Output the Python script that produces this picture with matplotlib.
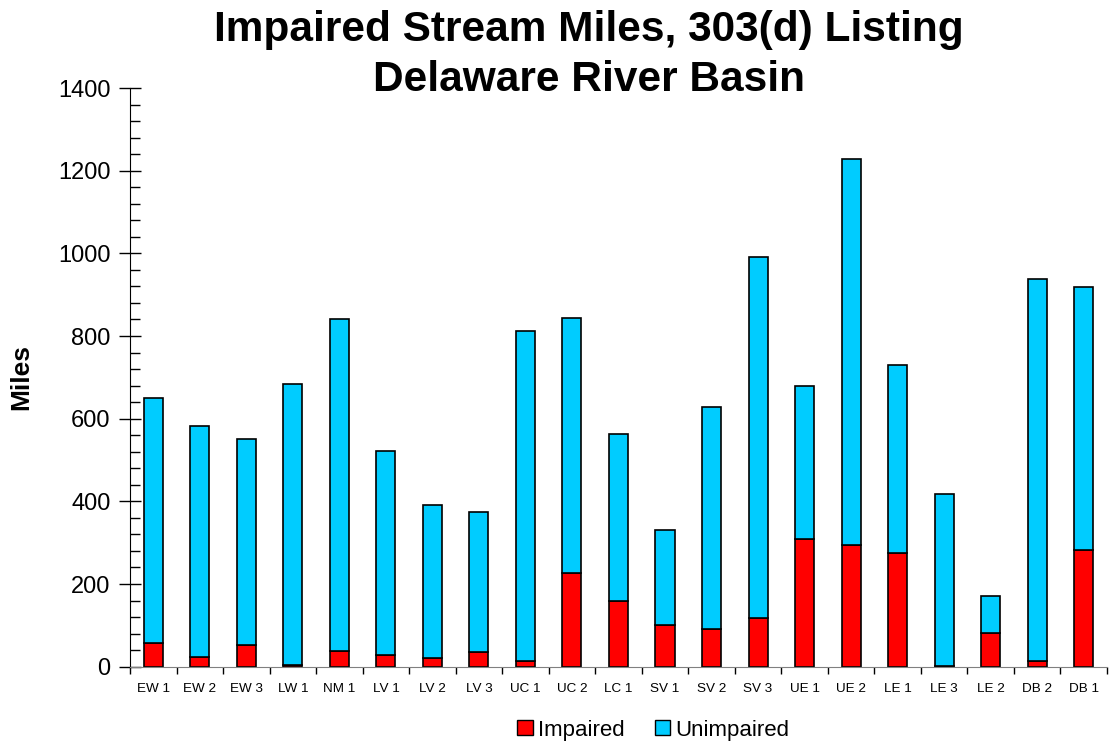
import numpy as np
import matplotlib.pyplot as plt
from matplotlib.ticker import MultipleLocator, FixedLocator
from matplotlib.patches import Patch

plt.rcParams['font.family'] = ['Liberation Sans', 'DejaVu Sans']

# stream segments and miles
segments = ["EW 1", "EW 2", "EW 3", "LW 1", "NM 1", "LV 1", "LV 2", "LV 3", "UC 1", "UC 2",
            "LC 1", "SV 1", "SV 2", "SV 3", "UE 1", "UE 2", "LE 1", "LE 3", "LE 2", "DB 2", "DB 1"]
total_miles = [650, 583, 552, 685, 841, 523, 390, 375, 812, 844,
               563, 331, 628, 991, 679, 1228, 730, 418, 172, 938, 919]
impaired = [57, 24, 52, 5, 38, 28, 21, 35, 14, 226,
            160, 101, 90, 118, 310, 295, 276, 1.5, 82, 14, 282]
unimpaired = [t - i for t, i in zip(total_miles, impaired)]

fig = plt.figure(figsize=(11.17, 7.42), dpi=100)
ax = fig.add_axes([0.1164, 0.1015, 0.8746, 0.7799])

x = np.arange(len(segments))
w = 0.41
ax.bar(x, impaired, w, color='#FF0000', edgecolor='black', linewidth=1.2, label='Impaired')
ax.bar(x, unimpaired, w, bottom=impaired, color='#00CCFF', edgecolor='black', linewidth=1.2,
       label='Unimpaired')

ax.set_xlim(-0.5, len(segments) - 0.5)
ax.set_ylim(0, 1400)
ax.yaxis.set_major_locator(MultipleLocator(200))
ax.yaxis.set_minor_locator(MultipleLocator(40))
ax.tick_params(axis='y', which='major', direction='inout', length=16, width=1, labelsize=17, pad=6)
ax.tick_params(axis='y', which='minor', direction='in', length=7, width=1)

ax.set_xticks(x)
ax.set_xticklabels(segments)
ax.xaxis.set_minor_locator(FixedLocator(np.arange(-0.5, len(segments), 1.0)))
ax.tick_params(axis='x', which='major', length=0, labelsize=9.7, pad=12)
ax.tick_params(axis='x', which='minor', direction='out', length=5, width=1)

for s in ['top', 'right']:
    ax.spines[s].set_visible(False)
ax.spines['left'].set_color('black')
ax.spines['bottom'].set_color('#808080')

ax.set_ylabel('Miles', fontsize=19, fontweight='bold', labelpad=18)

fig.text(0.527, 0.986, 'Impaired Stream Miles, 303(d) Listing\nDelaware River Basin',
         ha='center', va='top', fontsize=30.5, fontweight='bold', linespacing=1.3)

handles = [Patch(facecolor='#FF0000', edgecolor='black', label='Impaired'),
           Patch(facecolor='#00CCFF', edgecolor='black', label='Unimpaired')]
fig.legend(handles=handles, loc='center', bbox_to_anchor=(0.585, 0.016), ncol=2, frameon=False,
           fontsize=16, handlelength=0.68, handleheight=0.68, handletextpad=0.25,
           columnspacing=1.35)

fig.savefig('out.png', dpi=100)
